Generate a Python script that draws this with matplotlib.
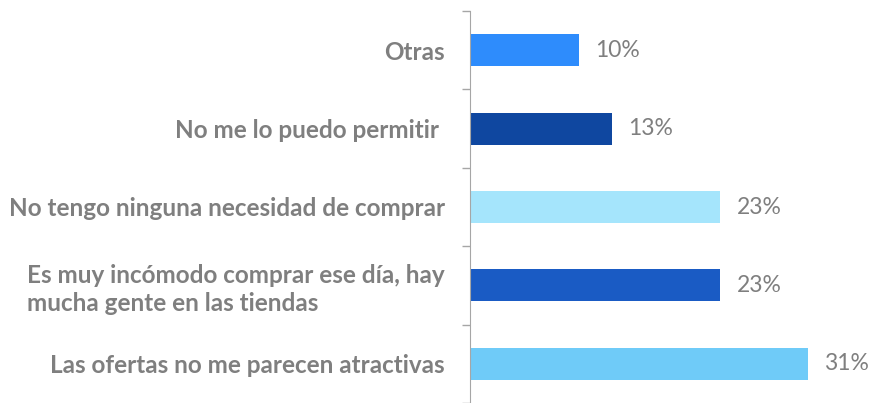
import numpy as np
import matplotlib
matplotlib.use("Agg")
import matplotlib.pyplot as plt

categories = ["Otras", "No me lo puedo permitir ", "No tengo ninguna necesidad de comprar",
              "Es muy incómodo comprar ese día, hay\nmucha gente en las tiendas",
              "Las ofertas no me parecen atractivas"]
values = [10, 13, 23, 23, 31]
colors = ["#2E8CFC", "#0F47A0", "#A5E5FC", "#1A5BC4", "#6FCBF8"]

GRAY = "#7F7F7F"
plt.rcParams["font.family"] = ["Lato", "DejaVu Sans"]

fig = plt.figure(figsize=(8.7, 4.03), dpi=100)
ax = fig.add_axes([470 / 870, 0.0, 392 / 870, 1 - 11 / 403])

y = np.arange(len(categories))
ax.barh(y, values, height=0.41, color=colors)
ax.set_ylim(len(categories) - 0.5, -0.5)
ax.set_xlim(0, 36)

for yi, v in zip(y, values):
    ax.annotate(f"{v}%", (v, yi), xytext=(12, 0), textcoords="offset points",
                ha="left", va="center", color=GRAY, fontsize=16.5)

ax.set_yticks(y)
ax.set_yticklabels(categories, fontsize=17.5, fontweight="bold", color=GRAY,
                   linespacing=1.25)
for lab in ax.get_yticklabels():
    lab.set_multialignment("left")
ax.tick_params(axis="y", which="major", length=0, pad=18)
ax.set_yticks(np.arange(-0.5, len(categories) + 0.5, 1), minor=True)
ax.tick_params(axis="y", which="minor", length=6, color="#A6A6A6", width=1)
ax.set_xticks([])

for s in ["top", "right", "bottom"]:
    ax.spines[s].set_visible(False)
ax.spines["left"].set_color("#A6A6A6")

fig.savefig("out.png", dpi=100)
